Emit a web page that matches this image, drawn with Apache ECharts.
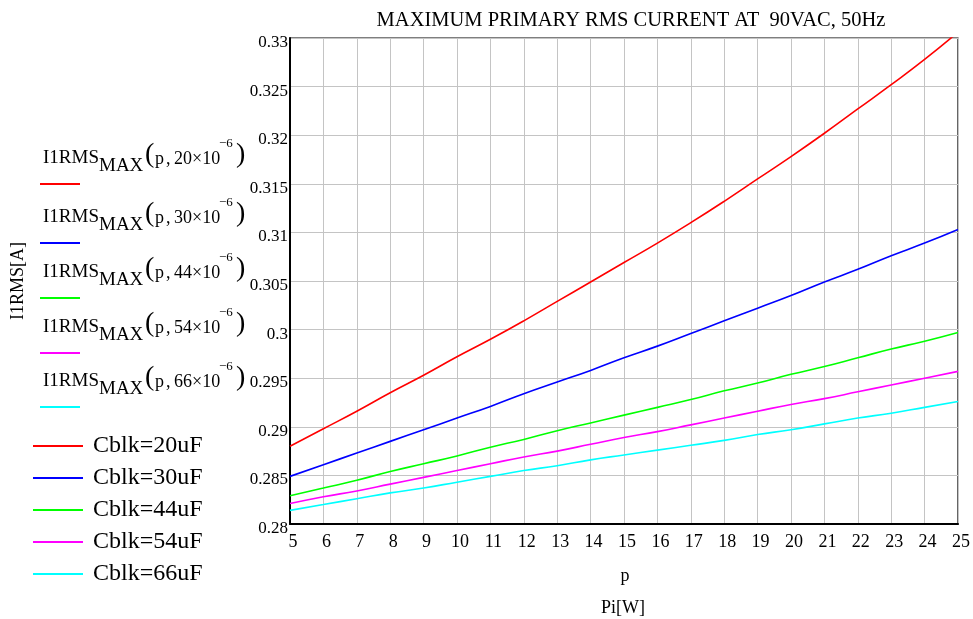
<!DOCTYPE html>
<html>
<head>
<meta charset="utf-8">
<script src="https://cdn.jsdelivr.net/npm/echarts@6/dist/echarts.min.js"></script>
<style>
html,body{margin:0;padding:0;background:#fff;}
#chart{width:973px;height:619px;}
</style>
</head>
<body>
<div id="chart"></div>
<script>
var pValues = [5,6,7,8,9,10,11,12,13,14,15,16,17,18,19,20,21,22,23,24,25];
var seriesNames = ['Cblk=20uF','Cblk=30uF','Cblk=44uF','Cblk=54uF','Cblk=66uF'];
var capExp = ['20','30','44','54','66'];
var colors = ['#ff0000','#0000ff','#00ff00','#ff00ff','#00ffff'];
var i20 = [0.2880,0.2898,0.2916,0.2935,0.2953,0.2972,0.2990,0.3009,0.3029,0.3049,0.3069,0.3089,0.3110,0.3132,0.3155,0.3178,0.3202,0.3227,0.3252,0.3278,0.3306];
var i30 = [0.2849,0.2861,0.2873,0.2885,0.2897,0.2909,0.2921,0.2934,0.2946,0.2958,0.2971,0.2983,0.2996,0.3009,0.3022,0.3035,0.3049,0.3062,0.3076,0.3089,0.3103];
var i44 = [0.2829,0.2837,0.2845,0.2854,0.2862,0.2870,0.2879,0.2887,0.2896,0.2904,0.2912,0.2920,0.2928,0.2937,0.2945,0.2954,0.2962,0.2971,0.2980,0.2988,0.2997];
var i54 = [0.2821,0.2828,0.2834,0.2841,0.2848,0.2855,0.2862,0.2869,0.2875,0.2882,0.2889,0.2895,0.2902,0.2909,0.2916,0.2923,0.2929,0.2936,0.2943,0.2950,0.2957];
var i66 = [0.2814,0.2820,0.2826,0.2832,0.2837,0.2843,0.2849,0.2855,0.2860,0.2866,0.2871,0.2876,0.2881,0.2886,0.2892,0.2897,0.2903,0.2909,0.2914,0.2920,0.2926];
var allSeries = [i20,i30,i44,i54,i66];
var yTicks = ['0.28','0.285','0.29','0.295','0.3','0.305','0.31','0.315','0.32','0.325','0.33'];
var legendLineY = [184,243,298,353,407];

var FONT = "'Liberation Serif','DejaVu Serif',serif";
var chart = echarts.init(document.getElementById('chart'));

function zip(xs, ys){ return xs.map(function(x,i){ return [x, ys[i]]; }); }

var series = allSeries.map(function(d, k){
  return {
    name: seriesNames[k], type: 'line', data: zip(pValues, d),
    showSymbol: false, symbol: 'none', smooth: true, clip: true,
    lineStyle: {color: colors[k], width: 1.6},
    itemStyle: {color: colors[k]}
  };
});

// formula legend (upper left) as text + coloured line
var graphics = [];
legendLineY.forEach(function(ly, k){
  var txt = function(t, x, y, size){
    return {type:'text', silent:true, style:{text:t, x:x, y:y, font: size+'px '+FONT, fill:'#000',
      textAlign:'left', align:'left', textVerticalAlign:'middle', verticalAlign:'middle'}};
  };
  graphics.push(txt('I1RMS', 43, ly-26, 19));
  graphics.push(txt('MAX', 99, ly-18, 19));
  graphics.push(txt('(', 145, ly-29, 28));
  graphics.push(txt('p', 155, ly-25, 18));
  graphics.push(txt(',', 166, ly-25, 18));
  graphics.push(txt(capExp[k] + '\u00d710', 174, ly-25, 18));
  graphics.push(txt('\u2212' + '6', 219, ly-40, 13));
  graphics.push(txt(')', 236, ly-29, 28));
  graphics.push({type:'line', silent:true, shape:{x1:40, y1:ly, x2:80, y2:ly}, style:{stroke:colors[k], lineWidth:2}});
});
graphics.push({type:'text', silent:true, style:{text:'p', x:625, y:576, font:'18px '+FONT, fill:'#000',
  textAlign:'center', align:'center', textVerticalAlign:'middle', verticalAlign:'middle'}});
graphics.push({type:'text', silent:true, style:{text:'Pi[W]', x:623, y:608, font:'18px '+FONT, fill:'#000',
  textAlign:'center', align:'center', textVerticalAlign:'middle', verticalAlign:'middle'}});

var option = {
  animation: false,
  backgroundColor: '#ffffff',
  title: {
    text: 'MAXIMUM PRIMARY RMS CURRENT AT  90VAC, 50Hz',
    left: 626, top: 5, textAlign: 'center',
    textStyle: {fontFamily: FONT, fontSize: 20.5, fontWeight: 'normal', color: '#000'}
  },
  legend: {
    data: seriesNames, orient: 'vertical', left: 33, top: 434, padding: 0,
    itemWidth: 50, itemHeight: 14, itemGap: 8, icon: 'path://M0,6 L50,6 L50,8 L0,8 Z',
    textStyle: {fontFamily: FONT, fontSize: 24, lineHeight: 24, color: '#000', padding: [0,0,0,5]},
    selectedMode: false
  },
  grid: {left: 290, right: 15, top: 38, bottom: 95, show: true, borderColor: '#000', borderWidth: 1.2, containLabel: false},
  xAxis: {
    type: 'value', min: 5, max: 25, interval: 1,
    axisLine: {show: true, lineStyle: {color: '#000', width: 2}},
    axisTick: {show: false},
    splitLine: {show: true, lineStyle: {color: '#c4c4c4', width: 1}},
    axisLabel: {fontFamily: FONT, fontSize: 18, color: '#000', margin: 9,
      formatter: function(v){ return '{x|' + v + '}'; },
      rich: {x: {fontFamily: FONT, fontSize: 18, color: '#000', padding: [0,0,0,6]}}}
  },
  yAxis: {
    type: 'value', min: 0.28, max: 0.33, interval: 0.005,
    name: 'I1RMS[A]', nameLocation: 'middle', nameRotate: 90, nameGap: 263,
    nameTextStyle: {fontFamily: FONT, fontSize: 18, color: '#000'},
    axisLine: {show: true, lineStyle: {color: '#000', width: 2}},
    axisTick: {show: false},
    splitLine: {show: true, lineStyle: {color: '#c4c4c4', width: 1}},
    axisLabel: {fontFamily: FONT, fontSize: 17, color: '#000', margin: 2,
      formatter: function(v){
        var idx = Math.round((v - 0.28) / 0.005);
        return '{y|' + (yTicks[idx] !== undefined ? yTicks[idx] : '') + '}';
      },
      rich: {y: {fontFamily: FONT, fontSize: 17, color: '#000', padding: [9,0,0,0]}}}
  },
  series: series,
  graphic: graphics
};
chart.setOption(option);
</script>
</body>
</html>
